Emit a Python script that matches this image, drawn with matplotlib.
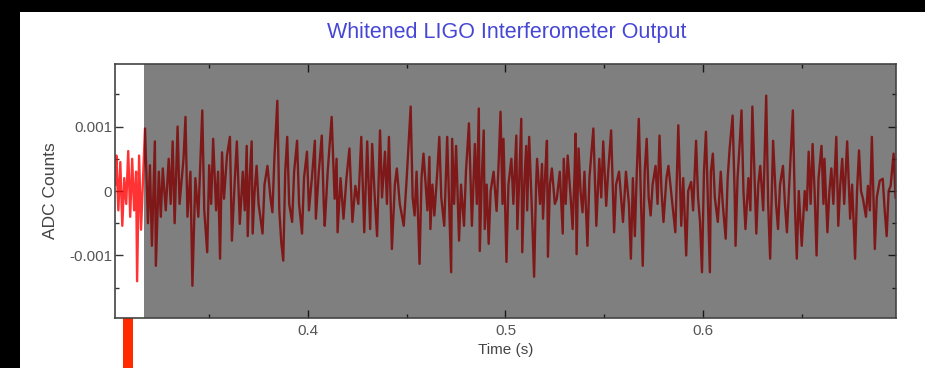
import numpy as np
import matplotlib
matplotlib.use('Agg')
import matplotlib.pyplot as plt
from matplotlib.patches import Rectangle
from matplotlib.ticker import MultipleLocator
import matplotlib.transforms as mtransforms

plt.rcParams['font.family'] = ['Liberation Sans', 'DejaVu Sans']

# whitened strain (time in ms, value in units of 0.001 ADC counts)
time_ms = [
    302.5, 303, 304, 305, 306, 307, 308, 309, 310, 311, 312, 313, 313.5, 314.5, 315.5, 316.5,
    317.5, 319, 320, 321, 322.5, 323, 324.5, 325.5, 326.5, 328, 329.5, 330.5, 331.5, 332.5, 334, 335,
    337, 338, 339, 340.5, 341.5, 343, 344.5, 346.5, 347.5, 349, 350, 351, 352, 353.5, 354.5, 355.5,
    356.5, 357.5, 359, 360.5, 361.5, 363, 364, 365.5, 367, 368, 369, 369.5, 370.5, 371.5, 372, 373,
    374, 375,
    377, 378, 379.5, 381, 382, 383, 384.5, 385.5, 386.5, 387.5, 388.5, 389.5, 390.5, 392, 393, 394.5,
    395.5, 397, 398, 399.5, 400.5, 402, 403.5, 404, 405.5, 407, 408, 408.5, 410, 412, 413.5, 414.5,
    415, 416.5, 418,
    419.5, 421, 422.5, 424, 425.5, 427, 428.5, 430, 431.5, 432.5, 434, 435, 436.5, 437.5, 439, 440,
    441, 442.5, 444, 445, 446.5, 448.5, 450, 452, 453, 454, 455, 456.5, 457.5, 458.5,
    460.5, 461.5, 462, 463, 464, 465.5, 466.5, 467.5, 469, 470.5, 472.5, 473, 474, 475, 476.5, 477.5,
    479, 480, 481.5, 483, 484.5, 485.5, 486.5, 487, 488, 489, 489.5, 490.5, 491.5, 492.5, 494, 495.5,
    496.5, 497.5, 498.5, 499, 500.5, 501.5,
    503, 504, 505.5, 506, 507, 508, 508.5, 509.5, 510.5, 511, 512, 513.5, 514.5, 515.5, 516, 517.5,
    518.5, 519, 520, 521, 521.5, 522.5, 523.5, 525, 526, 527.5, 529, 529.5, 530.5, 531.5, 533, 534,
    535, 535.5, 536, 537, 538, 539, 540, 541.5, 542.5,
    544.5, 546, 547.5, 548.5, 549.5, 551, 552, 553.5, 555, 556, 557.5, 559.5, 561, 562.5, 563.5, 564.5,
    565.5, 566.5, 567.5, 568.5, 569.5, 570.5, 571.5, 572.5, 573.5, 574.5, 576, 577, 578, 579, 580,
    581.5, 582.5,
    584.5, 586, 587.5, 589, 590, 591.5, 592.5, 594, 595, 596.5, 597.5, 598.5, 599.5, 600.5, 601.5,
    602.5, 603.5, 604, 605, 606, 607.5, 609, 610, 611.5, 612.5, 613.5, 615, 616, 616.5, 617.5, 618.5,
    619.5, 620.5, 621.5, 623, 624, 625,
    627, 628, 629, 630.5, 632, 633, 634, 635, 635.5, 637, 638, 639, 640.5, 641.5, 642.5, 644, 645.5,
    646.5, 647.5, 648.5, 650, 651.5, 652.5, 653.5, 654.5, 655.5, 656.5, 657.5, 658.5, 660, 661, 661.5,
    663, 664, 665, 666,
    667.5, 668.5, 669.5, 670.5, 671.5, 673, 674.5, 675.5, 677, 678, 679, 680, 681, 682.5, 683.5, 684.5,
    685.5, 687, 688, 689.5, 691, 692, 693, 694, 695, 696.5, 697.5,
]
adc_milli = [
    0.1, 0.55, -0.3, 0.45, -0.54, 0.2, -0.2, 0.62, -0.4, 0.5, -0.3, 0.3, -1.4, 0.55, -0.6, 0.2,
    0.97, -0.5, 0.4, -0.85, 0.77, -1.16, 0.3, -0.4, 0.35, -0.3, 0.5, -0.2, 0.77, -0.5, 1.0, -0.2,
    0.5, 1.15, -0.4, 0.3, -1.47, 0.2, -0.4, 1.25, -0.3, -0.95, 0.4, -0.2, 0.81, -0.3, 0.3, -1.05,
    0.6, -0.12, 0.55, 0.84, -0.77, 0.2, 0.77, -0.51, 0.3, -0.3, 0.70, -0.70, 0.2, 0.77, -0.66, 0.0,
    0.39, -0.2,
    -0.66, 0.1, 0.39, -0.1, -0.33, 0.5, 1.40, -0.3, -0.8, -1.08, 0.3, 0.84, -0.2, -0.48, 0.3, 0.78,
    -0.2, -0.66, 0.2, 0.61, -0.3, 0.2, 0.78, -0.43, 0.3, 0.86, -0.2, -0.54, 0.3, 1.15, -0.12, 0.5,
    -0.64, 0.2, -0.43,
    0.2, 0.66, -0.48, 0.08, -0.2, 0.84, -0.64, 0.77, -0.59, 0.73, -0.2, -0.70, 0.94, -0.1, 0.61, -0.2,
    0.84, -0.90, 0.1, 0.35, -0.2, -0.54, 0.2, 1.31, -0.1, -0.38, 0.3, -1.13, 0.2, 0.58,
    -0.3, 0.53, -0.59, 0.1, -0.38, 0.3, 0.84, -0.1, -0.54, 0.84, -1.26, 0.81, -0.2, 0.70, -0.77, 0.1,
    -0.54, 0.3, 1.05, -0.54, 0.73, -0.2, 1.28, -0.93, 0.2, 0.94, -0.59, 0.1, -0.82, 0.0, 0.30, -0.31,
    0.4, 1.23, -0.2, 0.81, -1.10, 0.1,
    0.50, -0.2, 0.86, -0.59, 0.2, 1.12, -0.95, 0.1, 0.70, -0.3, 0.84, -0.4, -1.33, 0.1, 0.50, -0.2,
    0.42, -0.43, 0.2, 0.78, -1.02, 0.1, 0.35, -0.2, -0.12, 0.3, -0.66, 0.5, -0.2, 0.55, -0.1, -0.59,
    0.3, 0.89, -0.98, 0.66, 0.0, -0.33, 0.3, -0.85, 0.2,
    0.97, -0.54, 0.50, -0.1, 0.77, -0.23, 0.3, 0.94, -0.64, 0.1, 0.30, -0.48, 0.30, -0.2, -1.05, 0.2,
    -0.70, 0.3, 1.12, 0.0, -1.16, 0.3, 0.81, -0.1, -0.38, 0.1, 0.39, -0.2, 0.86, 0.0, -0.48,
    0.2, 0.39,
    -0.2, -0.64, 1.02, -0.54, 0.2, -1.0, 0.0, 0.14, -0.3, 0.78, -0.1, -0.48, -1.26, 0.3, 0.92,
    -0.2, -1.26, 0.3, 0.58, -0.1, -0.48, 0.30, -0.2, -0.74, 0.2, 0.66, 1.17, 0.0, -0.85, 0.2, 0.69,
    1.25, 0.0, -0.59, 0.2, -0.3, 1.31,
    -0.66, 0.1, 0.39, -0.3, 1.48, -0.2, -1.05, 0.2, 0.78, -0.2, -0.59, 0.1, 0.39, -0.2, -0.64, 0.30, 1.25,
    -0.2, -1.05, 0.0, -0.85, 0.0, -0.3, 0.61, -0.2, 0.73, 0.0, -1.0, 0.2, 0.70, -0.2, 0.50,
    -0.64, 0.0, 0.35, -0.2,
    0.84, -0.54, 0.1, 0.50, -0.2, 0.77, -0.43, 0.1, -1.05, 0.0, 0.63, 0.0, -0.12, -0.4, 0.08, -0.3,
    0.84, -0.90, -0.1, 0.16, 0.19, -0.3, -0.70, 0.0, 0.08, 0.58, -0.1,
]

t_start, t_end = 0.3023, 0.6977
shade_start = 0.317          # start of the darkened (not yet played) part
cursor_t = 0.3064            # red play-head marker under the axis

t = np.array(time_ms) / 1000.0
y = np.array(adc_milli) * 1e-3

fig = plt.figure(figsize=(9.25, 3.68), dpi=100)
ax = fig.add_axes([0.1243, 0.1359, 0.8443, 0.6901])

ax.plot(t, y, color='#ff0000', lw=1.7, alpha=0.8, zorder=2)
ax.axvspan(shade_start, t_end, color='black', alpha=0.5, lw=0, zorder=3)

ax.set_xlim(t_start, t_end)
ax.set_ylim(-0.00197, 0.00197)

ax.xaxis.set_minor_locator(MultipleLocator(0.05))
ax.yaxis.set_minor_locator(MultipleLocator(0.0005))
ax.set_yticks([-0.001, 0, 0.001])
ax.set_yticklabels(['-0.001', '0', '0.001'])
ax.set_xticks([0.4, 0.5, 0.6])
ax.set_xticklabels(['0.4', '0.5', '0.6'])

ax.tick_params(which='both', direction='in', top=True, right=True,
               color='#333333', labelsize=11, labelcolor='#555555', pad=2)
ax.tick_params(axis='x', pad=4)
ax.tick_params(which='major', length=6, width=1)
ax.tick_params(which='minor', length=3, width=1)
for s in ax.spines.values():
    s.set_color('#444444')
    s.set_linewidth(1.2)
    s.set_zorder(4)

ax.set_xlabel('Time (s)', fontsize=11, color='#444444', labelpad=4)
ax.set_ylabel('ADC Counts', fontsize=12.5, color='#444444', labelpad=8)

# red play-head below the axis
trans = mtransforms.blended_transform_factory(ax.transData, ax.transAxes)
ax.add_patch(Rectangle((cursor_t, -0.3), 0.0052, 0.3, transform=trans,
                       color='#ff2a00', lw=0, clip_on=False))

fig.text(0.548, 0.913, 'Whitened LIGO Interferometer Output', ha='center', va='center',
         fontsize=15.5, color='#4646d6')

# black frame strips from the screen capture
fig.patches.append(Rectangle((0, 1 - 12 / 368), 1, 12 / 368, transform=fig.transFigure,
                             color='black', lw=0))
fig.patches.append(Rectangle((0, 0), 20 / 925, 1, transform=fig.transFigure,
                             color='black', lw=0))

fig.savefig('out.png', dpi=100)
